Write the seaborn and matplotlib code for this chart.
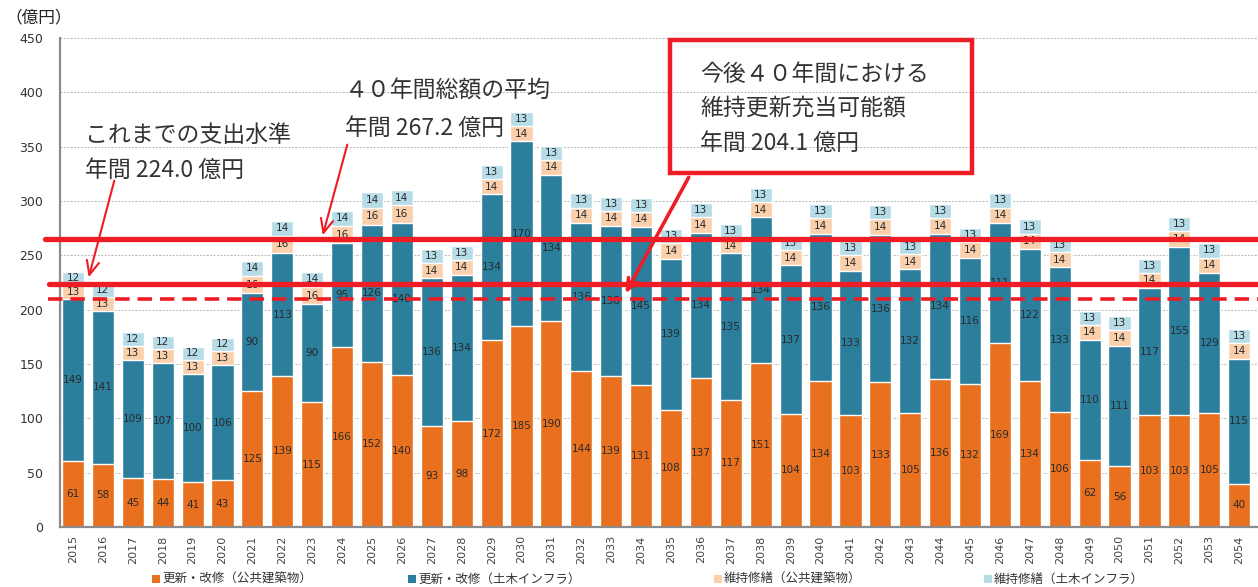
import matplotlib
matplotlib.use("Agg")
import matplotlib.pyplot as plt
import numpy as np
import pandas as pd
import seaborn as sns
from matplotlib.patches import Rectangle

years = [str(y) for y in range(2015, 2055)]

renewal_buildings = [61, 58, 45, 44, 41, 43, 125, 139, 115, 166, 152, 140, 93, 98, 172, 185, 190, 144, 139, 131,
                     108, 137, 117, 151, 104, 134, 103, 133, 105, 136, 132, 169, 134, 106, 62, 56, 103, 103, 105, 40]
renewal_infra = [149, 141, 109, 107, 100, 106, 90, 113, 90, 95, 126, 140, 136, 134, 134, 170, 134, 136, 138, 145,
                 139, 134, 135, 134, 137, 136, 133, 136, 132, 134, 116, 111, 122, 133, 110, 111, 117, 155, 129, 115]
repair_buildings = [13] * 6 + [16] * 6 + [14] * 28
repair_infra = [12] * 6 + [14] * 6 + [13] * 28

series_names = ["更新・改修（公共建築物）", "更新・改修（土木インフラ）", "維持修繕（公共建築物）", "維持修繕（土木インフラ）"]
colors = ["#E8701E", "#2B7E9C", "#FAD0AC", "#B5DCE7"]

# reference levels (as drawn on the chart)
level_past = 224.0
level_avg = 265.0
level_future = 210.0

df = pd.DataFrame({
    "year": years,
    "s0": renewal_buildings,
    "s1": renewal_infra,
    "s2": repair_buildings,
    "s3": repair_infra,
})
cols = ["s0", "s1", "s2", "s3"]
cum = df[cols].cumsum(axis=1)

sns.set_style("white")
plt.rcParams["font.family"] = ["Noto Sans CJK JP", "DejaVu Sans"]

fig = plt.figure(figsize=(12.58, 5.87), dpi=100)
ax = fig.add_axes([60 / 1258, 1 - 527 / 587, 1198 / 1258, 489 / 587])

# stacked bars: draw cumulative totals from the top down
for i in range(3, -1, -1):
    sns.barplot(x=df["year"], y=cum[cols[i]], color=colors[i], saturation=1, width=0.74,
                errorbar=None, ax=ax, zorder=2)

# segment labels
for i in range(4):
    bottoms = cum[cols[i]] - df[cols[i]]
    for j, (b, v) in enumerate(zip(bottoms, df[cols[i]])):
        ax.text(j, b + v / 2, str(v), ha="center", va="center", fontsize=7.5, color="#2a2a2a",
                family=["DejaVu Sans"], zorder=4)

ax.set_ylim(0, 450)
ax.set_xlim(-0.435, 39.63)
ax.set_yticks(range(0, 451, 50))
ax.set_xlabel("")
ax.set_ylabel("")
ax.yaxis.grid(True, linestyle=(0, (2, 1.5)), color="#b5b5b5", linewidth=0.7, zorder=0)
ax.set_axisbelow(True)
for s in ["top", "right"]:
    ax.spines[s].set_visible(False)
for s in ["left", "bottom"]:
    ax.spines[s].set_color("#8c8c8c")
    ax.spines[s].set_linewidth(1.6)
ax.tick_params(axis="y", length=0, labelsize=9, labelcolor="#333333", pad=12)
ax.tick_params(axis="x", length=0, labelsize=8, labelcolor="#444444", pad=6)
for lab in ax.get_xticklabels():
    lab.set_rotation(90)
    lab.set_family(["DejaVu Sans"])
for lab in ax.get_yticklabels():
    lab.set_family(["DejaVu Sans"])

# horizontal red levels
tr = ax.get_yaxis_transform()
ax.plot([-0.0125, 1.0], [level_avg, level_avg], color="#EE1C25", lw=3.8, transform=tr, clip_on=False, zorder=5)
ax.plot([-0.009, 1.0], [level_past, level_past], color="#EE1C25", lw=3.8, transform=tr, clip_on=False, zorder=5)
ax.plot([-0.010, 1.0], [level_future, level_future], color="#EE1C25", lw=2.6, linestyle=(0, (4, 2.2)),
        transform=tr, clip_on=False, zorder=5)

fig.text(5 / 1258, 1 - 18 / 587, "（億円）", fontsize=12, color="#222222", va="center")

txt_kw = dict(fontsize=16.5, color="#333333", va="center", ha="left")
fig.text(85 / 1258, 1 - 135 / 587, "これまでの支出水準", **txt_kw)
fig.text(85 / 1258, 1 - 170 / 587, "年間 224.0 億円", **txt_kw)
fig.text(345 / 1258, 1 - 91 / 587, "４０年間総額の平均", **txt_kw)
fig.text(345 / 1258, 1 - 128 / 587, "年間 267.2 億円", **txt_kw)
fig.text(700 / 1258, 1 - 74 / 587, "今後４０年間における", **txt_kw)
fig.text(700 / 1258, 1 - 108 / 587, "維持更新充当可能額", **txt_kw)
fig.text(700 / 1258, 1 - 143 / 587, "年間 204.1 億円", **txt_kw)

fig.patches.append(Rectangle((670 / 1258, 1 - 173 / 587), 302 / 1258, 133 / 587, transform=fig.transFigure,
                             fill=False, edgecolor="#EE1C25", linewidth=3.2, zorder=6))

arrow_kw = dict(xycoords="figure pixels", textcoords="figure pixels", annotation_clip=False)
ax.annotate("", xy=(88, 587 - 280), xytext=(115, 587 - 178),
            arrowprops=dict(arrowstyle="->,head_length=1.0,head_width=0.45", color="#EE1C25", lw=1.5), **arrow_kw)
ax.annotate("", xy=(322, 587 - 238), xytext=(348, 587 - 142),
            arrowprops=dict(arrowstyle="->,head_length=1.0,head_width=0.45", color="#EE1C25", lw=1.5), **arrow_kw)
ax.annotate("", xy=(624, 587 - 296), xytext=(690, 587 - 175),
            arrowprops=dict(arrowstyle="->,head_length=0.8,head_width=0.35", color="#EE1C25", lw=2.6), **arrow_kw)

# legend along the bottom edge
legend_x = [152, 408, 714, 984]
for x, name, c in zip(legend_x, series_names, colors):
    fig.patches.append(Rectangle((x / 1258, 1 - 583 / 587), 8 / 1258, 8 / 587, transform=fig.transFigure,
                                 facecolor=c, edgecolor="none"))
    fig.text((x + 10) / 1258, 1 - 579 / 587, name, fontsize=9, color="#333333", va="center", ha="left")

fig.savefig("out.png", dpi=100)
